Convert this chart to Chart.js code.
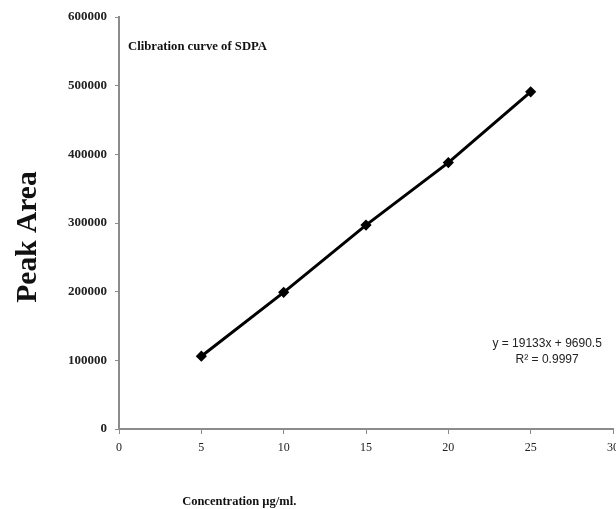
<html>
<head>
<meta charset="utf-8" />
<title>Calibration curve of SDPA</title>
<script src="https://cdn.jsdelivr.net/npm/chart.js"></script>
<style>
  body { margin: 0; background: white; overflow: hidden; }
  #wrap { width: 616px; height: 509px; overflow: hidden; }
</style>
</head>
<body>
<div id="wrap"><canvas id="myChart" width="626" height="509"></canvas></div>
<script>
// concentration (µg/ml) vs peak area
const conc = [5, 10, 15, 20, 25];
const peakArea = [106000, 199000, 297000, 388000, 491000];
const xTicks = [0, 5, 10, 15, 20, 25, 30];
const yTicks = [0, 100000, 200000, 300000, 400000, 500000, 600000];

const chartTitle = "Clibration curve of SDPA";
const yTitle = "Peak Area";
const xTitle = "Concentration \u00b5g/ml.";
const eqLines = ["y = 19133x + 9690.5", "R\u00b2 = 0.9997"];

const axisGray = "#8c8c8c";

// texts that sit at odd places in the original, drawn relative to the scales
const textPlugin = {
  id: 'texts',
  afterDraw(chart) {
    const c = chart.ctx, xs = chart.scales.x, ys = chart.scales.y;
    c.save();
    c.fillStyle = "#111";
    c.textBaseline = "middle";

    c.font = "bold 12.7px 'Liberation Serif', serif";
    c.textAlign = "left";
    c.fillText(chartTitle, xs.getPixelForValue(0.55), ys.getPixelForValue(556000));

    c.font = "bold 12.5px 'Liberation Serif', serif";
    c.textAlign = "center";
    c.fillText(xTitle, xs.getPixelForValue(7.3), 502);

    c.fillStyle = "#222";
    c.font = "12px 'Liberation Sans', sans-serif";
    c.fillText(eqLines[0], xs.getPixelForValue(26.0), ys.getPixelForValue(124000));
    c.fillText(eqLines[1], xs.getPixelForValue(26.0), ys.getPixelForValue(101000));

    c.fillStyle = "#111";
    c.font = "bold 29.5px 'Liberation Serif', serif";
    c.translate(28, 237);
    c.rotate(-Math.PI / 2);
    c.fillText(yTitle, 0, 0);
    c.restore();
  }
};

const ctx = document.getElementById('myChart').getContext('2d');
const myChart = new Chart(ctx, {
  type: 'line',
  data: {
    datasets: [{
      data: conc.map((x, i) => ({ x: x, y: peakArea[i] })),
      borderColor: "#000",
      backgroundColor: "#000",
      borderWidth: 3,
      pointStyle: 'rectRot',
      pointRadius: 3.5,
      tension: 0
    }]
  },
  options: {
    responsive: false,
    animation: false,
    layout: { padding: { top: 17, right: 12, left: 0, bottom: 0 } },
    plugins: { legend: { display: false }, tooltip: { enabled: false } },
    scales: {
      x: {
        type: 'linear',
        min: 0, max: 30,
        afterBuildTicks: s => { s.ticks = xTicks.map(v => ({ value: v })); },
        afterFit: s => { s.height = 80; },
        grid: { drawOnChartArea: false, drawTicks: true, tickLength: 5, color: axisGray, lineWidth: 1 },
        border: { display: true, color: axisGray, width: 2 },
        ticks: { color: "#222", padding: 7, maxRotation: 0, font: { family: "'Liberation Serif', serif", size: 12 } }
      },
      y: {
        type: 'linear',
        min: 0, max: 600000,
        afterBuildTicks: s => { s.ticks = yTicks.map(v => ({ value: v })); },
        afterFit: s => { s.width = 119; s.paddingTop = 0; s.paddingBottom = 0; },
        grid: { drawOnChartArea: false, drawTicks: true, tickLength: 4, color: axisGray, lineWidth: 1 },
        border: { display: true, color: axisGray, width: 2 },
        ticks: { color: "#222", padding: 8, font: { family: "'Liberation Serif', serif", size: 13, weight: 'bold' },
                 callback: v => String(v) }
      }
    }
  },
  plugins: [textPlugin]
});
</script>
</body>
</html>
